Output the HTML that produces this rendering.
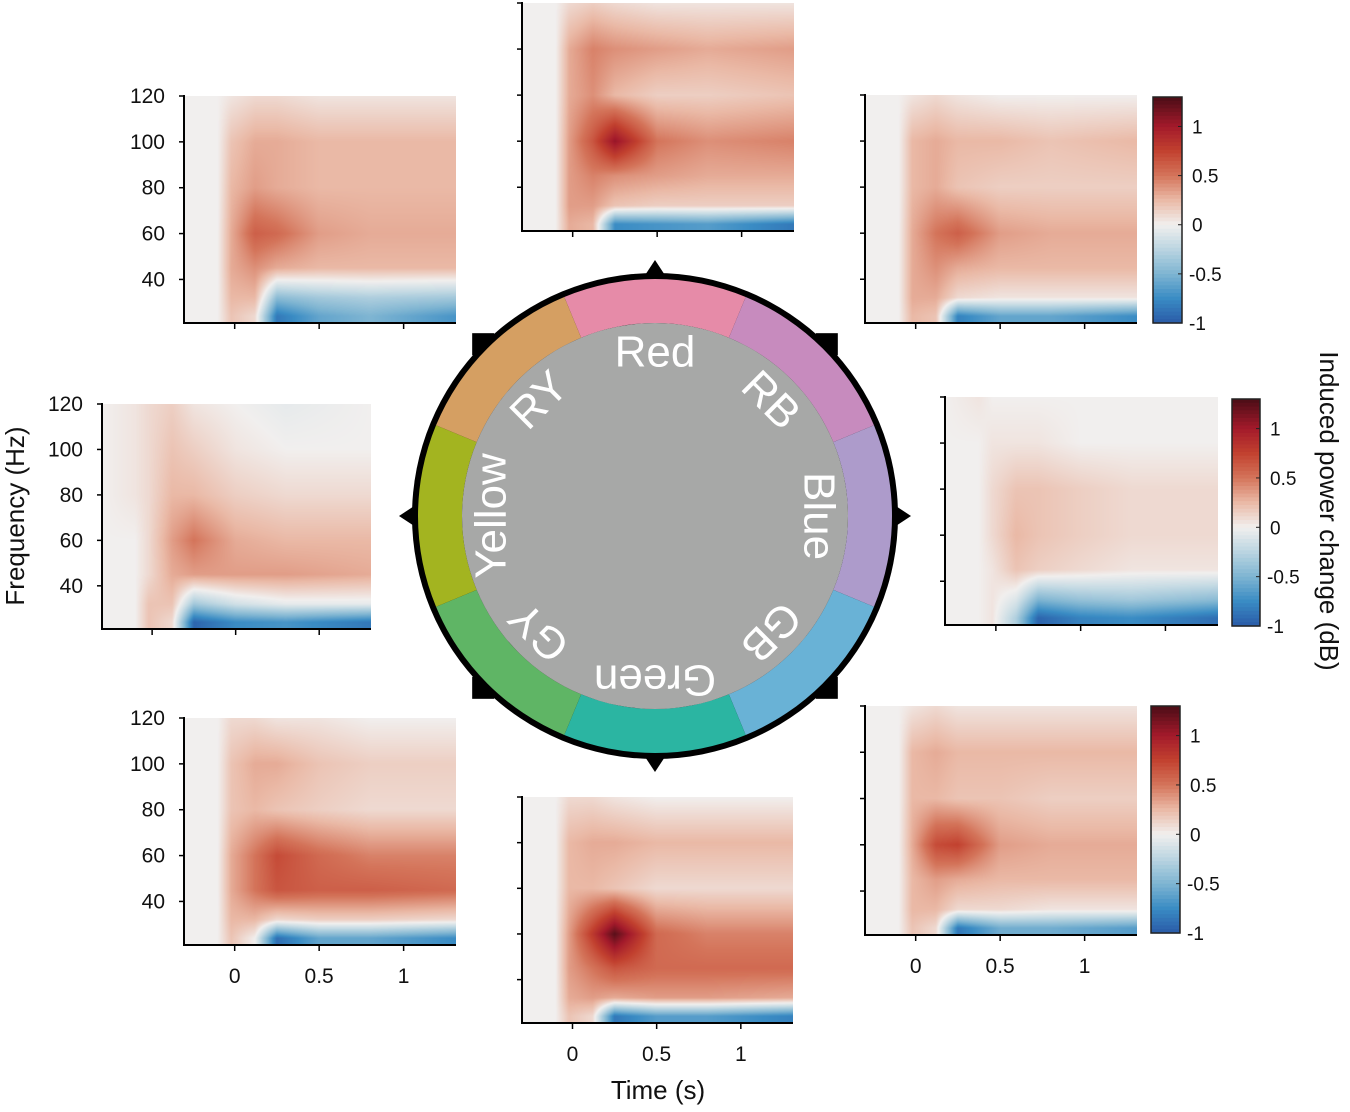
<!DOCTYPE html>
<html><head><meta charset="utf-8">
<style>
html,body{margin:0;padding:0;background:#fff;}
#root{position:relative;width:1350px;height:1112px;overflow:hidden;font-family:"Liberation Sans",sans-serif;}
canvas{position:absolute;}
#ov{position:absolute;left:0;top:0;}
</style></head>
<body>
<div id="root">
<svg id="ov" width="1350" height="1112"></svg>
</div>
<script>
// ---- data ----
const timePoints = [-0.3,-0.1,-0.02,0.12,0.25,0.5,0.8,1.31];
const freqPoints = [120,100,80,60,45,32,24];
const xTicks = [0,0.5,1];
const xTickLabels = ["0","0.5","1"];
const yTicks = [120,100,80,60,40];
const yTickLabels = ["120","100","80","60","40"];
const cbTicks = [1,0.5,0,-0.5,-1];
const cbTickLabels = ["1","0.5","0","-0.5","-1"];
const conditionNames = ["Red","RB","Blue","GB","Green","GY","Yellow","RY"];

const valsRY = [
[0,0,0.05,0.1,0.1,0.05,0.05,0.05],
[0,0,0.2,0.3,0.3,0.25,0.25,0.25],
[0,0,0.25,0.35,0.3,0.25,0.25,0.25],
[0,0,0.3,0.6,0.55,0.35,0.3,0.3],
[0,0,0.3,0.4,0.3,0.25,0.25,0.25],
[0,0,0.25,0.25,-0.45,-0.35,-0.3,-0.35],
[0,0,0.2,0.1,-0.85,-0.6,-0.5,-0.7]];
const valsRed = [
[0,0,0.1,0.15,0.1,0.05,0.05,0.05],
[0,0,0.3,0.45,0.4,0.35,0.3,0.35],
[0,0,0.3,0.4,0.25,0.15,0.15,0.2],
[0,0,0.35,0.65,1.05,0.5,0.4,0.45],
[0,0,0.35,0.45,0.4,0.35,0.3,0.3],
[0,0,0.35,0.35,0.2,0.15,0.15,0.15],
[0,0,0.3,0.25,-0.75,-0.7,-0.65,-0.85]];
const valsRB = [
[0,0,0.05,0.1,0.05,0,0,0],
[0,0,0.25,0.3,0.25,0.25,0.2,0.25],
[0,0,0.25,0.3,0.2,0.15,0.15,0.15],
[0,0,0.3,0.5,0.6,0.35,0.3,0.3],
[0,0,0.3,0.4,0.3,0.25,0.25,0.25],
[0,0,0.3,0.3,0.1,0.05,0.05,0.05],
[0,0,0.25,0.2,-0.8,-0.6,-0.6,-0.75]];
const valsYellow = [
[0,0.05,0.1,0.15,0.05,0,-0.05,0],
[0,0.05,0.1,0.2,0.15,0.05,0,0],
[0,0.05,0.1,0.25,0.25,0.15,0.1,0.1],
[0,0,0.1,0.35,0.5,0.3,0.25,0.25],
[0,0,0.1,0.3,0.35,0.35,0.35,0.3],
[0,0,0.2,0.2,-0.35,-0.15,-0.05,-0.05],
[0,0,0.2,0.1,-0.95,-0.75,-0.7,-0.85]];
const valsBlue = [
[0,0.05,0,0,0,0,0,0],
[0,0,0.05,0.05,0.05,0,0,0],
[0,0,0.1,0.2,0.2,0.15,0.1,0.1],
[0,0,0.1,0.25,0.2,0.15,0.1,0.1],
[0,0,0.05,0.2,0.15,0.1,0.05,0.05],
[0,0,0.05,-0.1,-0.5,-0.4,-0.35,-0.45],
[0,0,0.05,-0.3,-0.95,-0.8,-0.75,-0.9]];
const valsGY = [
[0,0,0.1,0.1,0.05,0.05,0,0],
[0,0,0.2,0.3,0.3,0.2,0.15,0.15],
[0,0,0.2,0.25,0.2,0.15,0.1,0.1],
[0,0,0.3,0.5,0.7,0.55,0.45,0.45],
[0,0,0.3,0.5,0.65,0.6,0.6,0.55],
[0,0,0.25,0.25,0.1,0.15,0.15,0.1],
[0,0,0.2,0.0,-0.9,-0.6,-0.6,-0.75]];
const valsGreen = [
[0,0,0.1,0.1,0.05,0,0,0],
[0,0,0.25,0.3,0.3,0.25,0.25,0.25],
[0,0,0.25,0.25,0.2,0.1,0.1,0.1],
[0,0,0.35,0.8,1.25,0.55,0.45,0.45],
[0,0,0.35,0.5,0.65,0.55,0.55,0.55],
[0,0,0.3,0.35,0.3,0.35,0.35,0.3],
[0,0,0.2,0.1,-0.85,-0.65,-0.65,-0.8]];
const valsGB = [
[0,0,0.05,0.1,0.05,0.05,0.05,0.05],
[0,0,0.25,0.3,0.25,0.25,0.25,0.25],
[0,0,0.25,0.25,0.2,0.2,0.15,0.15],
[0,0,0.3,0.7,0.75,0.35,0.3,0.3],
[0,0,0.25,0.35,0.3,0.25,0.25,0.25],
[0,0,0.25,0.25,0.1,0.1,0.05,0.05],
[0,0,0.2,0.1,-0.85,-0.55,-0.55,-0.65]];

// ---- layout ----
const panels = [
 {name:"ry",vals:valsRY,x:184,y:96,w:272,h:227,yl:true,xl:false,cb:null},
 {name:"red",vals:valsRed,x:522,y:3,w:272,h:228,yl:false,xl:false,cb:null},
 {name:"rb",vals:valsRB,x:865,y:95,w:272,h:228,yl:false,xl:false,cb:{x:1153,y:97,w:29,h:226}},
 {name:"yellow",vals:valsYellow,x:102,y:404,w:269,h:225,yl:true,xl:false,cb:null},
 {name:"blue",vals:valsBlue,x:945,y:397,w:273,h:228,yl:false,xl:false,cb:{x:1232,y:399,w:28,h:227}},
 {name:"gy",vals:valsGY,x:184,y:718,w:272,h:227,yl:true,xl:true,cb:null},
 {name:"green",vals:valsGreen,x:522,y:797,w:271,h:226,yl:false,xl:true,cb:null},
 {name:"gb",vals:valsGB,x:865,y:706,w:272,h:229,yl:false,xl:true,cb:{x:1151,y:706,w:29,h:227}}
];
const T0=-0.3,T1=1.31,F0=21,F1=120,CMIN=-1,CMAX=1.3;
const stops=[[-1,[42,91,168]],[-0.75,[58,140,196]],[-0.5,[127,181,210]],[-0.2,[198,219,228]],[0,[241,239,238]],[0.25,[234,185,166]],[0.5,[212,116,90]],[0.75,[194,65,47]],[1.0,[163,26,43]],[1.3,[74,13,22]]];
function cmap(v){
  if(v<=stops[0][0])return stops[0][1];
  for(let i=1;i<stops.length;i++){if(v<=stops[i][0]){const a=stops[i-1],b=stops[i];const f=(v-a[0])/(b[0]-a[0]);return a[1].map((c,k)=>c+(b[1][k]-c)*f);}}
  return stops[stops.length-1][1];
}
function interp1(arr,v,desc){
  const n=arr.length;
  for(let i=0;i<n-1;i++){const a=arr[i],b=arr[i+1];
    if(desc? (v<=a&&v>=b):(v>=a&&v<=b)) return [i,(v-a)/(b-a)];}
  if(desc) return v>arr[0]?[0,0]:[n-2,1];
  return v<arr[0]?[0,0]:[n-2,1];
}
function sample(vals,t,f){
  const [i,fi]=interp1(timePoints,t,false);
  const [j,fj]=interp1(freqPoints,f,true);
  const a=vals[j][i],b=vals[j][i+1],c=vals[j+1][i],d=vals[j+1][i+1];
  return (a*(1-fi)+b*fi)*(1-fj)+(c*(1-fi)+d*fi)*fj;
}
const root=document.getElementById('root');
const svg=document.getElementById('ov');
const NS="http://www.w3.org/2000/svg";
function el(tag,attrs,parent){const e=document.createElementNS(NS,tag);for(const k in attrs)e.setAttribute(k,attrs[k]);(parent||svg).appendChild(e);return e;}

panels.forEach(p=>{
  const xS=t=>p.x+(t-T0)/(T1-T0)*p.w;
  const yS=f=>p.y+(F1-f)/(F1-F0)*p.h;
  const cv=document.createElement('canvas');
  cv.width=p.w;cv.height=p.h;cv.style.left=p.x+'px';cv.style.top=p.y+'px';
  
  
  root.insertBefore(cv,svg);
  const ctx=cv.getContext('2d');const img=ctx.createImageData(p.w,p.h);
  for(let py=0;py<p.h;py++){const f=F1-(py+0.5)/p.h*(F1-F0);
    for(let px=0;px<p.w;px++){const t=T0+(px+0.5)/p.w*(T1-T0);
      const c=cmap(sample(p.vals,t,f));const k=(py*p.w+px)*4;
      img.data[k]=c[0];img.data[k+1]=c[1];img.data[k+2]=c[2];img.data[k+3]=255;}}
  ctx.putImageData(img,0,0);
  const g=el('g',{});
  
  
  el('line',{x1:p.x,y1:p.y-1,x2:p.x,y2:p.y+p.h+1,stroke:'#000','stroke-width':2},g);
  el('line',{x1:p.x-1,y1:p.y+p.h,x2:p.x+p.w,y2:p.y+p.h,stroke:'#000','stroke-width':2},g);
  yTicks.forEach((v,i)=>{const y=yS(v);
    el('line',{x1:p.x-5,y1:y,x2:p.x,y2:y,stroke:'#000','stroke-width':1.5},g);
    if(p.yl){const t=el('text',{x:p.x-19,y:y+7,'text-anchor':'end','font-size':21,fill:'#111'},g);t.textContent=yTickLabels[i];
      
      }
  });
  xTicks.forEach((v,i)=>{const x=xS(v);
    el('line',{x1:x,y1:p.y+p.h,x2:x,y2:p.y+p.h+6,stroke:'#000','stroke-width':1.5},g);
    if(p.xl){const t=el('text',{x:x,y:p.y+p.h+38,'text-anchor':'middle','font-size':21,fill:'#111'},g);t.textContent=xTickLabels[i];
      
      }
  });
  if(p.cb){const cb=p.cb;
    const cg=el('g',{});
    
    
    const N=60;
    for(let i=0;i<N;i++){const v=CMAX-(i+0.5)/N*(CMAX-CMIN);const c=cmap(v);
      el('rect',{x:cb.x,y:cb.y+i*cb.h/N,width:cb.w,height:cb.h/N+0.6,fill:`rgb(${c.map(Math.round).join(',')})`},cg);}
    el('rect',{x:cb.x,y:cb.y,width:cb.w,height:cb.h,fill:'none',stroke:'#222','stroke-width':1.5},cg);
    const cy=v=>cb.y+(CMAX-v)/(CMAX-CMIN)*cb.h;
    cbTicks.forEach((v,i)=>{const y=cy(v);
      el('line',{x1:cb.x+cb.w-4,y1:y,x2:cb.x+cb.w,y2:y,stroke:'#222','stroke-width':1},cg);
      const t=el('text',{x:cb.x+cb.w+(v<0?7:10),y:y+7,'font-size':19,fill:'#111'},cg);t.textContent=cbTickLabels[i];
      
      
    });
  }
});

// axis titles
let t;
t=el('text',{x:0,y:0,transform:'translate(24,516) rotate(-90)','text-anchor':'middle','font-size':26,fill:'#111'});t.textContent='Frequency (Hz)';


t=el('text',{x:658,y:1099,'text-anchor':'middle','font-size':26,fill:'#111'});t.textContent='Time (s)';


t=el('text',{x:0,y:0,transform:'translate(1320,511) rotate(90)','text-anchor':'middle','font-size':26,fill:'#111'});t.textContent='Induced power change (dB)';



// color wheel
const CX=655,CY=516,RO=237,RI=193;
const segColors=["#e68ba8","#c78bbe","#ad9bcb","#69b2d6","#2bb5a2","#5fb565","#a3b420","#d59f62"];
const wg=el('g',{});


function pt(r,a){const rad=a*Math.PI/180;return [CX+r*Math.sin(rad),CY-r*Math.cos(rad)];}
[0,90,180,270].forEach(a=>{const tip=pt(256,a),b1=pt(232,a-4),b2=pt(232,a+4);
  const tri=el('polygon',{points:[tip,b1,b2].map(p=>p.join(',')).join(' '),fill:'#000'},wg);
  
  });
[45,135,225,315].forEach(a=>{const c=pt(243,a);
  const sq=el('rect',{x:c[0]-11,y:c[1]-11,width:22,height:22,fill:'#000'},wg);
  
  });
el('circle',{cx:CX,cy:CY,r:RO+6,fill:'#000'},wg);
conditionNames.forEach((n,i)=>{const a0=i*45-22.5,a1=a0+45;
  const p1=pt(RO,a0),p2=pt(RO,a1),p3=pt(RI,a1),p4=pt(RI,a0);
  const s=el('path',{d:`M${p1} A${RO},${RO} 0 0 1 ${p2} L${p3} A${RI},${RI} 0 0 0 ${p4} Z`,fill:segColors[i]},wg);
  
  
});
el('circle',{cx:CX,cy:CY,r:RI,fill:'#a7a8a7'},wg);
conditionNames.forEach((n,i)=>{const a=i*45;
  const tx=el('text',{x:0,y:0,transform:`translate(${CX},${CY}) rotate(${a}) translate(0,-164)`,'text-anchor':'middle','dominant-baseline':'central','font-size':44,fill:'#fff'},wg);
  tx.textContent=n;
  
  
});
</script>
</body></html>
